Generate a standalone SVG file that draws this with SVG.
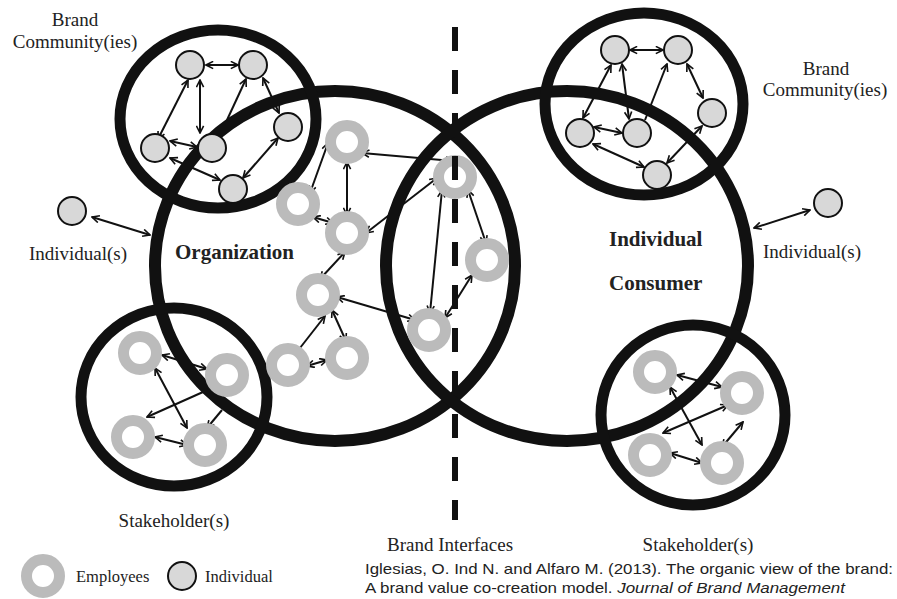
<svg xmlns="http://www.w3.org/2000/svg" width="897" height="599" viewBox="0 0 897 599">
<style>
.big{fill:none;stroke:#111;stroke-width:12}
.grp{fill:none;stroke:#111;stroke-width:11}
.ind{fill:#d8d8d8;stroke:#111;stroke-width:2}
.emp{fill:#fff;stroke:#bbb;stroke-width:11}
.c line{stroke:#111;stroke-width:2;fill:none;marker-end:url(#ah)}
.c line.d{marker-start:url(#ah)}
text{font-family:"Liberation Serif","Times New Roman",serif;fill:#222}
.lbl{font-size:19px}
.bold{font-size:21px;font-weight:bold}
.leg{font-size:16.5px}
.cite{font-family:"Liberation Sans",Arial,sans-serif;font-size:15px}
</style>
<defs>
<marker id="ah" viewBox="0 0 10 10" refX="9" refY="5" markerWidth="9" markerHeight="9" markerUnits="userSpaceOnUse" orient="auto-start-reverse">
<path d="M1,1 L9,5 L1,9" fill="none" stroke="#111" stroke-width="1.8"/>
</marker>
</defs>
<rect width="897" height="599" fill="#fff"/>

<g id="connectors" class="c">
<line class="d" x1="206" y1="65" x2="238" y2="65"/>
<line class="d" x1="188" y1="80" x2="158" y2="139"/>
<line class="d" x1="200" y1="80" x2="200" y2="133"/>
<line x1="227" y1="120" x2="246" y2="79"/>
<line class="d" x1="263" y1="78" x2="279" y2="113"/>
<line class="d" x1="170" y1="141" x2="197" y2="147"/>
<line class="d" x1="170" y1="158" x2="220" y2="180"/>
<line class="d" x1="278" y1="138" x2="243" y2="178"/>
<line class="d" x1="92" y1="217" x2="150" y2="235"/>

<line class="d" x1="328" y1="143" x2="310" y2="193"/>
<line class="d" x1="347" y1="162" x2="347" y2="215"/>
<line class="d" x1="362" y1="153" x2="453" y2="161"/>
<line class="d" x1="313" y1="217" x2="333" y2="223"/>
<line class="d" x1="366" y1="233" x2="437" y2="178"/>
<line class="d" x1="345" y1="252" x2="320" y2="279"/>
<line class="d" x1="337" y1="297" x2="415" y2="320"/>
<line class="d" x1="325" y1="316" x2="289" y2="362"/>
<line class="d" x1="332" y1="310" x2="346" y2="341"/>
<line class="d" x1="307" y1="366" x2="327" y2="360"/>
<line class="d" x1="442" y1="190" x2="430" y2="313"/>
<line class="d" x1="468" y1="190" x2="486" y2="243"/>
<line class="d" x1="472" y1="275" x2="445" y2="318"/>

<line class="d" x1="630" y1="50" x2="663" y2="50"/>
<line class="d" x1="611" y1="65" x2="583" y2="118"/>
<line class="d" x1="622" y1="64" x2="629" y2="119"/>
<line x1="645" y1="120" x2="667" y2="64"/>
<line class="d" x1="687" y1="64" x2="703" y2="98"/>
<line class="d" x1="594" y1="127" x2="622" y2="133"/>
<line class="d" x1="593" y1="144" x2="644" y2="167"/>
<line class="d" x1="702" y1="126" x2="667" y2="163"/>
<line class="d" x1="810" y1="210" x2="754" y2="228"/>

<line class="d" x1="162" y1="355" x2="207" y2="369"/>
<line class="d" x1="155" y1="368" x2="187" y2="428"/>
<line class="d" x1="212" y1="388" x2="147" y2="417"/>
<line x1="222" y1="410" x2="207" y2="428"/>
<line class="d" x1="155" y1="437" x2="187" y2="445"/>

<line class="d" x1="677" y1="375" x2="722" y2="387"/>
<line class="d" x1="670" y1="387" x2="702" y2="445"/>
<line class="d" x1="728" y1="405" x2="663" y2="433"/>
<line class="d" x1="743" y1="422" x2="722" y2="447"/>
<line class="d" x1="670" y1="453" x2="702" y2="463"/>
</g>

<g id="organization"><ellipse class="big" cx="335" cy="266" rx="180" ry="175"/></g>
<g id="consumer"><ellipse class="big" cx="567" cy="266" rx="181" ry="175"/></g>
<g id="community-left"><ellipse class="grp" cx="218" cy="119" rx="98" ry="89"/></g>
<g id="community-right"><ellipse class="grp" cx="644" cy="104" rx="99" ry="91"/></g>
<g id="stakeholder-left"><ellipse class="grp" cx="174" cy="397" rx="93" ry="89"/></g>
<g id="stakeholder-right"><ellipse class="grp" cx="693" cy="415" rx="92" ry="90"/></g>

<g id="community-left-nodes">
<circle class="ind" cx="190" cy="65" r="14"/>
<circle class="ind" cx="253" cy="65" r="14"/>
<circle class="ind" cx="155" cy="148" r="14"/>
<circle class="ind" cx="212" cy="148" r="14"/>
<circle class="ind" cx="288" cy="127" r="14"/>
<circle class="ind" cx="233" cy="189" r="14"/>
</g>
<g id="individual-left"><circle class="ind" cx="72" cy="211" r="14"/></g>
<g id="community-right-nodes">
<circle class="ind" cx="615" cy="50" r="14"/>
<circle class="ind" cx="678" cy="50" r="14"/>
<circle class="ind" cx="580" cy="133" r="14"/>
<circle class="ind" cx="637" cy="133" r="14"/>
<circle class="ind" cx="712" cy="113" r="14"/>
<circle class="ind" cx="657" cy="175" r="14"/>
</g>
<g id="individual-right"><circle class="ind" cx="828" cy="203" r="14"/></g>

<g id="employees-org">
<circle class="emp" cx="347" cy="142" r="16.5"/>
<circle class="emp" cx="298" cy="204" r="16.5"/>
<circle class="emp" cx="347" cy="233" r="16.5"/>
<circle class="emp" cx="318" cy="295" r="16.5"/>
<circle class="emp" cx="288" cy="365" r="16.5"/>
<circle class="emp" cx="347" cy="358" r="16.5"/>
<circle class="emp" cx="455" cy="177" r="16.5"/>
<circle class="emp" cx="487" cy="260" r="16.5"/>
<circle class="emp" cx="429" cy="330" r="16.5"/>
</g>
<g id="employees-stakeholder-left">
<circle class="emp" cx="140" cy="353" r="16.5"/>
<circle class="emp" cx="227" cy="375" r="16.5"/>
<circle class="emp" cx="133" cy="437" r="16.5"/>
<circle class="emp" cx="205" cy="445" r="16.5"/>
</g>
<g id="employees-stakeholder-right">
<circle class="emp" cx="655" cy="372" r="16.5"/>
<circle class="emp" cx="742" cy="393" r="16.5"/>
<circle class="emp" cx="650" cy="455" r="16.5"/>
<circle class="emp" cx="722" cy="463" r="16.5"/>
</g>

<g id="brand-interfaces-line"><line x1="455" y1="27" x2="455" y2="520" stroke="#111" stroke-width="6" stroke-dasharray="24 19"/></g>

<g id="labels">
<text class="lbl" x="75" y="26" text-anchor="middle">Brand</text>
<text class="lbl" x="75" y="48" text-anchor="middle">Community(ies)</text>
<text class="lbl" x="826" y="75" text-anchor="middle">Brand</text>
<text class="lbl" x="825" y="96" text-anchor="middle">Community(ies)</text>
<text class="lbl" x="78" y="260" text-anchor="middle">Individual(s)</text>
<text class="lbl" x="812" y="258" text-anchor="middle">Individual(s)</text>
<text class="bold" x="175" y="259">Organization</text>
<text class="bold" x="609" y="246">Individual</text>
<text class="bold" x="609" y="290">Consumer</text>
<text class="lbl" x="174" y="527" text-anchor="middle">Stakeholder(s)</text>
<text class="lbl" x="450" y="551" text-anchor="middle">Brand Interfaces</text>
<text class="lbl" x="698" y="551" text-anchor="middle">Stakeholder(s)</text>
</g>

<g id="legend">
<circle class="emp" cx="43" cy="576" r="16.5"/>
<text class="leg" x="76" y="582">Employees</text>
<circle class="ind" cx="182" cy="576" r="14"/>
<text class="leg" x="205" y="582">Individual</text>
</g>

<g id="citation">
<text class="cite" x="365" y="574" textLength="528" lengthAdjust="spacingAndGlyphs">Iglesias, O. Ind N. and Alfaro M. (2013). The organic view of the brand:</text>
<text class="cite" x="365" y="593" textLength="480" lengthAdjust="spacingAndGlyphs">A brand value co-creation model. <tspan font-style="italic">Journal of Brand Management</tspan></text>
</g>
</svg>
